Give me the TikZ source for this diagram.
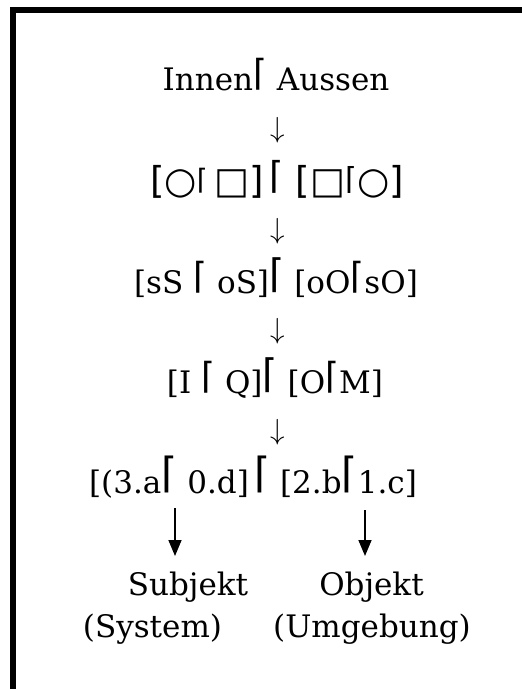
\documentclass[tikz,border=0pt]{standalone}
\usepackage{fontspec}
\setmainfont{DejaVu Serif}
\newfontfamily\symf{DejaVu Sans}
\usetikzlibrary{arrows.meta}
\newcommand{\gm}[1]{\raisebox{\depth}{\resizebox*{!}{#1pt}{\fontsize{30}{30}\symf ⌈}}}
\newcommand{\dn}{\fontsize{10}{12}\selectfont\scalebox{2.9}{$\downarrow$}}
\tikzset{
  row/.style={anchor=base,inner sep=0pt,font=\fontsize{31}{36}\selectfont},
  srow/.style={anchor=base,inner sep=0pt,font=\fontsize{37}{40}\selectfont\symf},
  dnarrow/.style={inner sep=0pt},
  frame/.style={line width=6pt},
  arr/.style={line width=1.6pt,-{Triangle[length=16pt,width=13pt]}}
}
\begin{document}
\begin{tikzpicture}[x=1pt,y=-1pt]
\useasboundingbox (0,0) rectangle (522,689);
\fill[white] (0,0) rectangle (522,689);
\draw[frame] (13,10) -- (522,10);
\draw[frame] (13,7) -- (13,689);

\node[row] (r1) at (276,90.5) {Innen\gm{32}\ Aussen};
\node[dnarrow] (d1) at (278,130) {\dn};
\node[srow] (r2) at (277,193) {[○\gm{25}\,□]\,\gm{33}\ [□\gm{27}○]};
\node[dnarrow] (d2) at (278,231) {\dn};
\node[row] (r3) at (276,293) {[sS \gm{32} oS]\gm{35}\ [oO\gm{32}sO]};
\node[dnarrow] (d3) at (278,331) {\dn};
\node[row] (r4) at (275,393) {[I \gm{32} Q]\gm{35}\ [O\gm{32}M]};
\node[dnarrow] (d4) at (278,432) {\dn};
\node[row] (r5) at (253,493) {[(3.a\gm{37}\ 0.d]\,\gm{37}\ [2.b\gm{37}1.c]};

\node[row] (s1) at (188,595) {Subjekt};
\node[row] (o1) at (371.5,595) {Objekt};
\node[row] (s2) at (152.5,637) {(System)};
\node[row] (o2) at (372,637) {(Umgebung)};

\coordinate (la) at (175,508);
\coordinate (lb) at (175,556);
\coordinate (ra) at (365,510);
\coordinate (rb) at (365,556);
\draw[arr] (la) -- (lb);
\draw[arr] (ra) -- (rb);
\end{tikzpicture}
\end{document}
